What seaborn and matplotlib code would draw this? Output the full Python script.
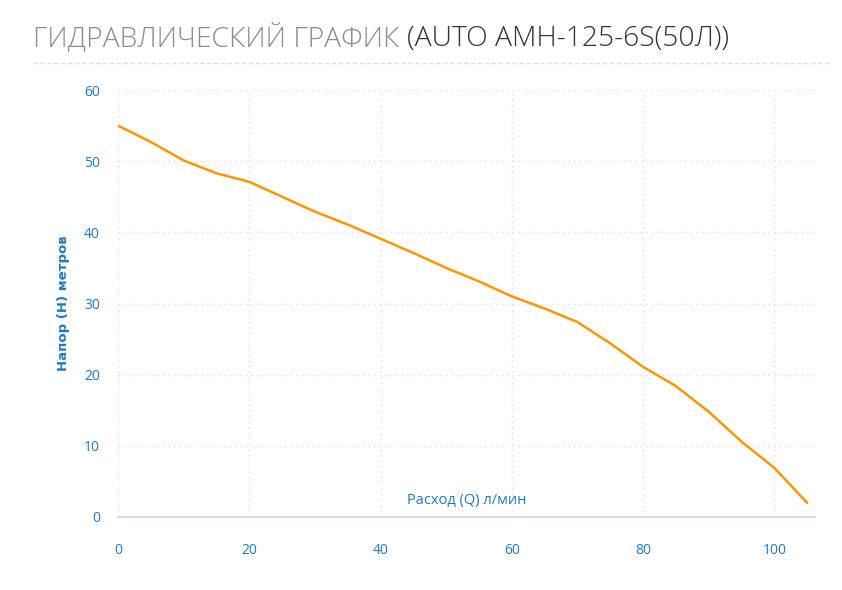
import matplotlib
matplotlib.use("Agg")
import matplotlib.pyplot as plt
import seaborn as sns
import pandas as pd

# flow (л/мин) vs head (м)
flow = [0, 5, 10, 15, 20, 25, 30, 35, 40, 45, 50, 55, 60, 65, 70, 75, 80, 85, 90, 95, 100, 105]
head = [55, 52.7, 50.1, 48.3, 47.1, 45.0, 42.9, 41.1, 39.1, 37.1, 35.0, 33.1, 31.0, 29.3,
        27.4, 24.4, 21.1, 18.4, 14.8, 10.6, 6.9, 2.0]
x_ticks = [0, 20, 40, 60, 80, 100]
y_ticks = [0, 10, 20, 30, 40, 50, 60]

title_gray = "ГИДРАВЛИЧЕСКИЙ ГРАФИК "
title_dark = "(AUTO AMH-125-6S(50Л))"
x_label = "Расход (Q) л/мин"
y_label = "Напор (H) метров"

df = pd.DataFrame({"flow": flow, "head": head})

sns.set_style("white")
plt.rcParams["font.family"] = ["Open Sans", "DejaVu Sans"]

blue = "#1f7ac2"

fig = plt.figure(figsize=(8.42, 5.9), dpi=100)
ax = fig.add_axes([118 / 842, 1 - 517 / 590, (815 - 118) / 842, (517 - 90) / 590])

sns.lineplot(data=df, x="flow", y="head", ax=ax, color="#ff9500", linewidth=1.8)
ax.lines[0].set_solid_joinstyle("round")

ax.set_xlim(0, 106.2)
ax.set_ylim(0, 60)
ax.set_xticks(x_ticks)
ax.set_yticks(y_ticks)
ax.grid(True, linestyle=(0, (1, 3)), color="#dddddd", linewidth=1)
ax.set_axisbelow(True)

for s in ["top", "right", "left"]:
    ax.spines[s].set_visible(False)
ax.spines["bottom"].set_color("#ccd6eb")
ax.spines["bottom"].set_linewidth(1.2)

ax.tick_params(axis="x", colors="#ccd6eb", length=8, width=1, pad=11, labelcolor=blue, labelsize=10)
ax.tick_params(axis="y", length=0, pad=13, labelcolor=blue, labelsize=10)

ax.set_xlabel("")
ax.set_ylabel(y_label, color=blue, fontsize=9.5, fontweight="bold", labelpad=10,
              family=["DejaVu Sans"])
ax.text(0.5, 0.02, x_label, transform=ax.transAxes, ha="center", va="bottom",
        color=blue, fontsize=10.5)

# title in two colours
t1 = fig.text(33 / 842, 1 - 46 / 590, title_gray, color="#8c8c8c", fontsize=20.3,
              fontweight="light", ha="left", va="baseline")
fig.canvas.draw()
bb = t1.get_window_extent()
fig.text(bb.x1 / fig.bbox.width, 1 - 46 / 590, title_dark, color="#333333", fontsize=20.3,
         fontweight="light", ha="left", va="baseline")

# dashed separator under the title
fig.add_artist(plt.Line2D([33 / 842, 830 / 842], [1 - 63 / 590, 1 - 63 / 590],
                          transform=fig.transFigure, color="#e0e0e0", linewidth=1,
                          linestyle=(0, (3, 2))))

fig.savefig("out.png", dpi=100)
